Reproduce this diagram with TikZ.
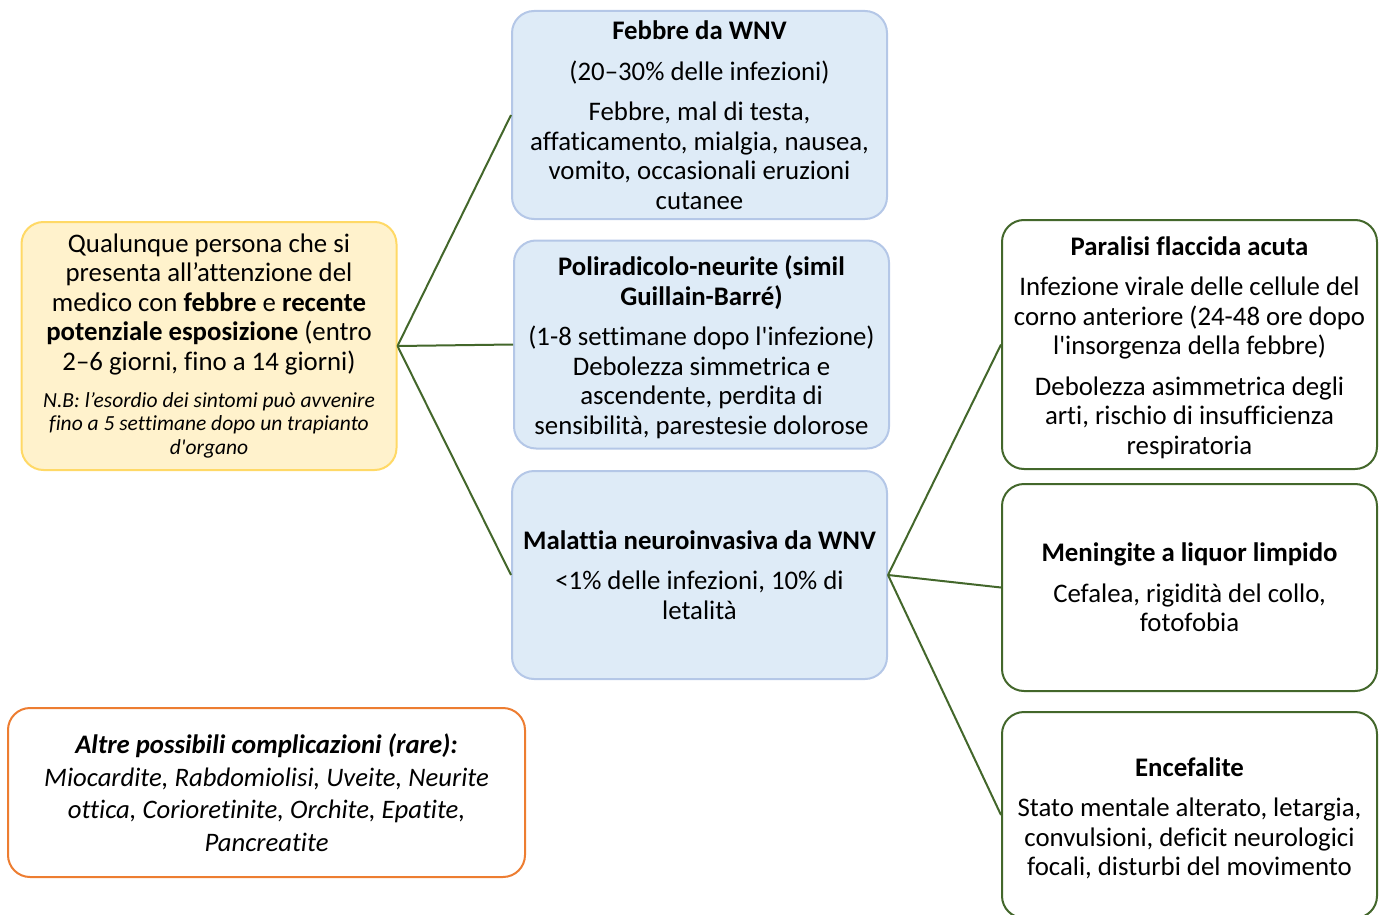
\documentclass[tikz,border=0pt]{standalone}
\usepackage{fontspec}
\setmainfont{Carlito}[Ligatures={TeXOff,NoCommon}]
\definecolor{notefill}{HTML}{FFF2CC}
\definecolor{noteedge}{HTML}{FFD966}
\definecolor{formfill}{HTML}{DEEBF7}
\definecolor{formedge}{HTML}{B4C7E7}
\definecolor{signedge}{HTML}{43672B}
\definecolor{rareedge}{HTML}{ED7D31}
\newcommand{\lowtop}{\rule{0pt}{25pt}}
\begin{document}
\begin{tikzpicture}[x=1pt,y=-1pt,
  box/.style={rounded corners=22pt,line width=2pt,align=flush center,inner sep=0pt,
    minimum width=375pt,text width=370pt,font=\fontsize{26.8}{29.5}\selectfont},
  startbox/.style={box,draw=noteedge,fill=notefill,minimum height=248pt},
  formbox/.style={box,draw=formedge,fill=formfill,minimum height=208pt},
  signbox/.style={box,draw=signedge,fill=white},
  rarebox/.style={box,draw=rareedge,fill=white,minimum width=517pt,text width=505pt,
    minimum height=169pt,font=\fontsize{26.7}{32.5}\selectfont\itshape},
  link/.style={draw=signedge,line width=2pt}]
  \useasboundingbox (0,0) rectangle (1386,915);
  % patient on the left
  \node[startbox] (start) at (209,346) {Qualunque persona che si\\
    presenta all’attenzione del\\
    medico con \textbf{febbre} e \textbf{recente}\\
    \textbf{potenziale esposizione} (entro\\
    2–6 giorni, fino a 14 giorni)\par\vspace{13.5pt}
    {\fontsize{21.5}{23.5}\selectfont\itshape N.B: l’esordio dei sintomi può avvenire\\
    fino a 5 settimane dopo un trapianto\\ d'organo\par}};
  % clinical forms
  \node[formbox] (fever) at (699.5,115) {\textbf{Febbre da WNV}\\[11pt]
    (20–30\% delle infezioni)\\[11pt]
    Febbre, mal di testa,\\ affaticamento, mialgia, nausea,\\
    vomito, occasionali eruzioni\\ cutanee};
  \node[formbox] (gbs) at (701.5,344.5) {\lowtop\textbf{Poliradicolo-neurite (simil}\\
    \textbf{Guillain-Barré)}\\[11pt]
    (1-8 settimane dopo l'infezione)\\ Debolezza simmetrica e\\
    ascendente, perdita di\\ sensibilità, parestesie dolorose};
  \node[formbox] (neuro) at (699.5,575) {\textbf{Malattia neuroinvasiva da WNV}\\[11pt]
    <1\% delle infezioni, 10\% di\\ letalità};
  % neuroinvasive forms
  \node[signbox,minimum height=249pt] (afp) at (1189.5,344.5) {\lowtop\textbf{Paralisi flaccida acuta}\\[11pt]
    Infezione virale delle cellule del\\ corno anteriore (24-48 ore dopo\\
    l'insorgenza della febbre)\\[11pt]
    Debolezza asimmetrica degli\\ arti, rischio di insufficienza\\ respiratoria};
  \node[signbox,minimum height=207pt] (mening) at (1189.5,587.5) {\textbf{Meningite a liquor limpido}\\[11pt]
    Cefalea, rigidità del collo,\\ fotofobia};
  \node[signbox,minimum height=206pt] (enceph) at (1189.5,815) {\lowtop\textbf{Encefalite}\\[11pt]
    Stato mentale alterato, letargia,\\ convulsioni, deficit neurologici\\
    focali, disturbi del movimento};
  % rare complications
  \node[rarebox] (rare) at (266.5,792.5) {\textbf{Altre possibili complicazioni (rare):}\\
    Miocardite, Rabdomiolisi, Uveite, Neurite\\
    ottica, Corioretinite, Orchite, Epatite,\\ Pancreatite};
  \draw[link] (start.east) -- (fever.west);
  \draw[link] (start.east) -- (gbs.west);
  \draw[link] (start.east) -- (neuro.west);
  \draw[link] (neuro.east) -- (afp.west);
  \draw[link] (neuro.east) -- (mening.west);
  \draw[link] (neuro.east) -- (enceph.west);
\end{tikzpicture}
\end{document}
